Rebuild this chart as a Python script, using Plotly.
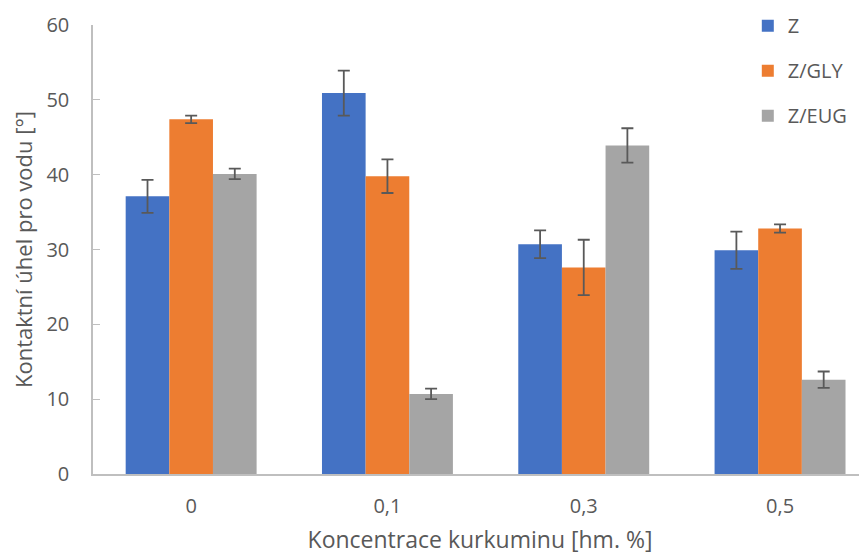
import plotly.graph_objects as go

categories = ["0", "0,1", "0,3", "0,5"]
series_names = ["Z", "Z/GLY", "Z/EUG"]
z_vals = [37.1, 50.9, 30.7, 29.9]
z_err = [2.2, 3.0, 1.85, 2.5]
gly_vals = [47.4, 39.8, 27.6, 32.8]
gly_err = [0.5, 2.25, 3.7, 0.55]
eug_vals = [40.1, 10.7, 43.9, 12.6]
eug_err = [0.7, 0.7, 2.3, 1.1]
colors = ["#4472C4", "#ED7D31", "#A5A5A5"]

FONT = "Open Sans"
TXT = "#595959"

fig = go.Figure()
for name, vals, errs, col in zip(series_names, [z_vals, gly_vals, eug_vals],
                                 [z_err, gly_err, eug_err], colors):
    fig.add_trace(go.Bar(
        x=categories, y=vals, name=name, legendgroup=name,
        marker=dict(color=col, line=dict(width=0)),
        error_y=dict(type="data", array=errs, visible=True,
                     color="#595959", thickness=1.8, width=6),
    ))

fig.update_layout(
    width=867, height=555,
    margin=dict(l=85, r=8, t=17, b=89, autoexpand=False),
    paper_bgcolor="white", plot_bgcolor="white",
    barmode="group", bargap=0.333, bargroupgap=0,
    font=dict(family=FONT, color=TXT, size=20),
    showlegend=True,
    legend=dict(x=0.846, y=1.042, xanchor="left", yanchor="top",
                orientation="v", traceorder="grouped", tracegroupgap=16,
                font=dict(size=20, color=TXT), bgcolor="rgba(0,0,0,0)",
                itemwidth=30),
    xaxis=dict(range=[-0.5, 3.443], showline=True, linecolor="#BFBFBF",
               linewidth=1.5, ticks="", tickfont=dict(size=20, color=TXT),
               automargin=False, ticklabelstandoff=13,
               title=dict(text="Koncentrace kurkuminu [hm. %]",
                          font=dict(size=23, color=TXT), standoff=14)),
    yaxis=dict(range=[0, 60], dtick=10, showline=True, linecolor="#BFBFBF",
               linewidth=1.5, ticks="inside", ticklen=7, tickcolor="#BFBFBF",
               tickwidth=1, showgrid=False, zeroline=False, automargin=False,
               tickfont=dict(size=20, color=TXT), ticklabelstandoff=18,
               title=dict(text="Kontaktní úhel pro vodu [°]",
                          font=dict(size=22, color=TXT), standoff=17)),
)

fig.write_html("out.html")
